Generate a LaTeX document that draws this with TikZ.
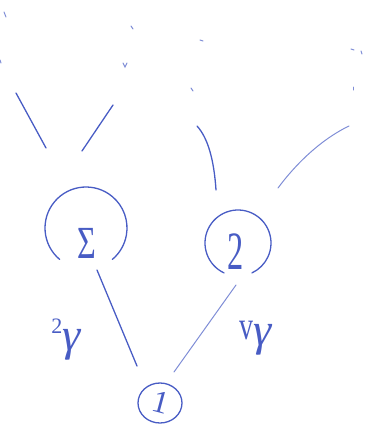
\documentclass[tikz,border=0pt]{standalone}
\usepackage{fontspec}
\setmainfont{Liberation Serif}
\definecolor{pen}{RGB}{72,92,196}
\newcommand{\fs}[1]{\fontsize{#1}{#1}\selectfont}
\begin{document}
\begin{tikzpicture}[x=1pt,y=-1pt,
  ink/.style={draw=pen,line width=1.3pt,line cap=round},
  faint/.style={draw=pen!70,line width=1pt,line cap=round},
  lab/.style={text=pen,inner sep=0pt}]
\useasboundingbox (0,0) rectangle (376,437);
% nodes
\node[lab,font=\fs{46},xscale=0.7] (n3) at (87,243) {Σ};
\node[lab,font=\fs{54},xscale=0.6] (n2) at (236,252) {2};
\node[lab,font=\fs{32},rotate=-15] (n1) at (161,402) {1};
% circles (open at the bottom, hand drawn)
\draw[ink] (86,228) ++(130:41) arc[start angle=130,end angle=410,radius=41];
\draw[ink] (238,243) ++(115:33) arc[start angle=115,end angle=425,radius=33];
\draw[ink] (160,403) ellipse[x radius=22,y radius=20];
% edges to the root
\coordinate (e3) at (97,270);
\coordinate (e1a) at (137,366);
\coordinate (e2) at (236,285);
\coordinate (e1b) at (174,372);
\draw[ink] (e3) -- (e1a);
\draw[faint] (e2) -- (e1b);
% edge labels
\node[lab,anchor=base] (l3) at (66,350) {\raisebox{17pt}{\fs{22}2}{\fs{46}\itshape γ}};
\node[lab,anchor=base] (l2) at (256,345) {\raisebox{6pt}{\fs{40}\scalebox{0.7}[1]{v}}{\fs{46}\itshape γ}};
% upper strokes
\coordinate (t1a) at (16,93);  \coordinate (t1b) at (46,148);
\coordinate (t2a) at (113,105); \coordinate (t2b) at (82,151);
\coordinate (t3a) at (197,126); \coordinate (t3b) at (216,190);
\coordinate (t4a) at (349,126); \coordinate (t4b) at (278,188);
\draw[ink] (t1a) -- (t1b);
\draw[ink] (t2a) -- (t2b);
\draw[ink] (t3a) .. controls (208,138) and (214,160) .. (t3b);
\draw[faint] (t4a) .. controls (320,140) and (295,165) .. (t4b);
% stray marks
\draw[faint] (4,12) -- (6,17);
\draw[faint] (131,26) -- (133,29);
\draw[faint] (123,63) -- (125,67) -- (127,63);
\draw[faint] (200,40) -- (203,41);
\draw[faint] (191,88) -- (193,91);
\draw[faint] (351,49) -- (354,50);
\draw[faint] (361,51) -- (362,54);
\draw[faint] (353,87) -- (353,90);
\draw[faint] (0,60) -- (1,63);
\end{tikzpicture}
\end{document}
